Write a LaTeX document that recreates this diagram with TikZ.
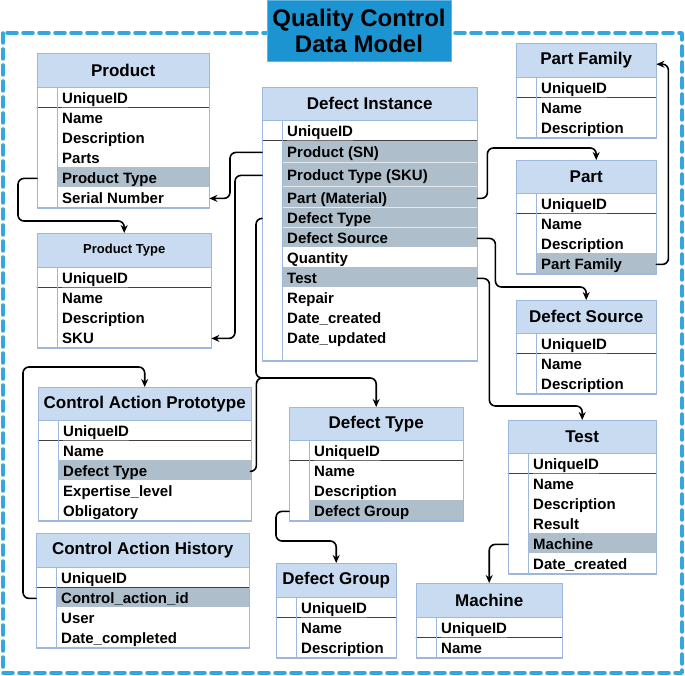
\documentclass[tikz,border=0pt]{standalone}
\usepackage{fontspec}
\setmainfont{Liberation Sans}
\usetikzlibrary{positioning,calc,arrows.meta}
\definecolor{hdrblue}{HTML}{C9DBF0}
\definecolor{bordblue}{HTML}{9DB7DD}
\definecolor{rowgray}{HTML}{AEBFCB}
\definecolor{titleblue}{HTML}{1D94D2}
\definecolor{frameblue}{HTML}{33A8DF}
\newcommand\ulfield[1]{\setbox0\hbox{#1}\rlap{\textcolor{black!55}{\rule[-3.8pt]{\wd0}{1pt}}}\box0}
\tikzset{
  hdr/.style={draw=bordblue, fill=hdrblue, minimum height=34pt, inner sep=0pt, font=\bfseries\fontsize{17}{20}\selectfont},
  tbl/.style={draw=bordblue, inner sep=0pt},
  fld/.style={anchor=west, inner sep=0pt, text height=10.7pt, text depth=0pt, font=\bfseries\fontsize{15}{18}\selectfont},
  divl/.style={draw=black!75, line width=0.8pt},
  link/.style={draw, line width=1.6pt, rounded corners=6pt, -{Stealth[length=8pt,width=7pt]}},
  qcframe/.style={draw=frameblue, line width=3.5pt, dash pattern=on 10pt off 6pt},
}
\begin{document}
\begin{tikzpicture}[x=1pt, y=-1pt, line join=round, line cap=round]
  \def\fields#1#2{\foreach \fname [count=\i from 0] in {#2}
    \node[fld] (#1-\i) at ($(#1-b.north west)+(25,11+20*\i)$) {\fname};}
  \def\hlrow#1#2{\fill[rowgray] ($(#1-b.north west)+(20,20*#2)$) rectangle ($(#1-b.north east)+(0,20*#2+20)$);}
  \def\tbframe#1{\draw[divl] ($(#1-b.north west)+(0,20)$) -- ($(#1-b.north east)+(0,20)$);
    \draw[bordblue] ($(#1-b.north west)+(20,0)$) -- ($(#1-b.south west)+(20,0)$);
    \draw[bordblue] (#1-b.north west) rectangle (#1-b.south east);}
  \useasboundingbox (0,0) rectangle (685,676);
  \draw[qcframe] (3,33) rectangle (682,673);
  \node[fill=titleblue, draw=titleblue!70!white, minimum width=184pt, minimum height=61pt, inner sep=0pt,
    align=center, font=\bfseries\fontsize{24}{26}\selectfont] (title) at (359,30.5) {Quality Control\\Data Model};

  % Product
  \node[hdr, minimum width=172pt, anchor=north west] (prod) at (37,53) {Product};
  \node[tbl, minimum width=172pt, minimum height=120pt, below=0pt of prod] (prod-b) {};
  \hlrow{prod}{4}
  \tbframe{prod}
  \fields{prod}{\ulfield{UniqueID},Name,Description,Parts,Product Type,Serial Number}

  % Product Type
  \node[hdr, minimum width=174pt, anchor=north west, font=\bfseries\fontsize{13}{16}\selectfont] (ptype) at (37,233) {Product Type};
  \node[tbl, minimum width=174pt, minimum height=80pt, below=0pt of ptype] (ptype-b) {};
  \tbframe{ptype}
  \fields{ptype}{\ulfield{UniqueID},Name,Description,SKU}

  % Defect Instance
  \node[hdr, minimum width=215pt, minimum height=33pt, anchor=north west] (di) at (262,87) {Defect Instance};
  \node[tbl, minimum width=215pt, minimum height=240pt, below=0pt of di] (di-b) {};
  \fill[rowgray] ($(di-b.north west)+(20,20)$) rectangle ($(di-b.north east)+(0,127)$);
  \fill[rowgray] ($(di-b.north west)+(20,147)$) rectangle ($(di-b.north east)+(0,167)$);
  \foreach \dy in {42,66,87,107}
    \draw[white!65!rowgray, line width=0.6pt] ($(di-b.north west)+(20,\dy)$) -- ($(di-b.north east)+(0,\dy)$);
  \tbframe{di}
  \foreach \fname/\dy [count=\i from 0] in {\ulfield{UniqueID}/11, Product (SN)/32, Product Type (SKU)/55,
      Part (Material)/78, Defect Type/98, Defect Source/118, Quantity/138, Test/158, Repair/178,
      Date\_created/198, Date\_updated/218}
    \node[fld] (di-\i) at ($(di-b.north west)+(25,\dy)$) {\fname};

  % Part Family
  \node[hdr, minimum width=140pt, anchor=north west] (pfam) at (516,43) {Part Family};
  \node[tbl, minimum width=140pt, minimum height=60pt, below=0pt of pfam] (pfam-b) {};
  \tbframe{pfam}
  \fields{pfam}{\ulfield{UniqueID},Name,Description}

  % Part
  \node[hdr, minimum width=140pt, minimum height=33pt, anchor=north west] (part) at (516,160) {Part};
  \node[tbl, minimum width=140pt, minimum height=80pt, below=0pt of part] (part-b) {};
  \hlrow{part}{3}
  \tbframe{part}
  \fields{part}{\ulfield{UniqueID},Name,Description,Part Family}

  % Defect Source
  \node[hdr, minimum width=140pt, minimum height=33pt, anchor=north west] (dsrc) at (516,300) {Defect Source};
  \node[tbl, minimum width=140pt, minimum height=60pt, below=0pt of dsrc] (dsrc-b) {};
  \tbframe{dsrc}
  \fields{dsrc}{\ulfield{UniqueID},Name,Description}

  % Test
  \node[hdr, minimum width=148pt, minimum height=33pt, anchor=north west] (test) at (508,420) {Test};
  \node[tbl, minimum width=148pt, minimum height=120pt, below=0pt of test] (test-b) {};
  \hlrow{test}{4}
  \tbframe{test}
  \fields{test}{\ulfield{UniqueID},Name,Description,Result,Machine,Date\_created}

  % Machine
  \node[hdr, minimum width=146pt, anchor=north west] (mach) at (416,583) {Machine};
  \node[tbl, minimum width=146pt, minimum height=40pt, below=0pt of mach] (mach-b) {};
  \tbframe{mach}
  \fields{mach}{\ulfield{UniqueID},Name}

  % Defect Group
  \node[hdr, minimum width=120pt, anchor=north west] (dgrp) at (276,563) {Defect Group};
  \node[tbl, minimum width=120pt, minimum height=60pt, below=0pt of dgrp] (dgrp-b) {};
  \tbframe{dgrp}
  \fields{dgrp}{\ulfield{UniqueID},Name,Description}

  % Defect Type
  \node[hdr, minimum width=174pt, minimum height=33pt, anchor=north west] (dtyp) at (289,407) {Defect Type};
  \node[tbl, minimum width=174pt, minimum height=80pt, below=0pt of dtyp] (dtyp-b) {};
  \hlrow{dtyp}{3}
  \tbframe{dtyp}
  \fields{dtyp}{\ulfield{UniqueID},Name,Description,Defect Group}

  % Control Action Prototype
  \node[hdr, minimum width=213pt, minimum height=33pt, anchor=north west] (cap) at (38,387) {Control Action Prototype};
  \node[tbl, minimum width=213pt, minimum height=100pt, below=0pt of cap] (cap-b) {};
  \hlrow{cap}{2}
  \tbframe{cap}
  \fields{cap}{\ulfield{UniqueID},Name,Defect Type,Expertise\_level,Obligatory}

  % Control Action History
  \node[hdr, minimum width=213pt, anchor=north west] (cah) at (36,533) {Control Action History};
  \node[tbl, minimum width=213pt, minimum height=80pt, below=0pt of cah] (cah-b) {};
  \hlrow{cah}{1}
  \tbframe{cah}
  \fields{cah}{UniqueID,Control\_action\_id,User,Date\_completed}

  % links
  \draw[link] (prod-4 -| prod-b.west) -- ++(-19,0) |- ($(ptype.north)+(0,-12)$) -- (ptype.north);
  \draw[link] (di-1 -| di-b.west) -- ++(-32,0) |- (prod-5 -| prod-b.east);
  \draw[link] (di-2 -| di-b.west) -- ++(-27,0) |- (ptype-3 -| ptype-b.east);
  \draw[link] (di-4 -| di-b.west) -- ++(-6,0) |- ($(dtyp.north)+(0,-29)$) -- (dtyp.north);
  \draw[link, -] (cap-2 -| cap-b.east) -- ++(5,0) |- ($(dtyp.north)+(-60,-29)$);
  \draw[link] (di-3 -| di-b.east) -- ++(10,0) |- ($(part.north)+(10,-12)$) -- ($(part.north)+(10,0)$);
  \draw[link] (di-5 -| di-b.east) -- ++(18,0) |- ($(dsrc.north)+(0,-13)$) -- (dsrc.north);
  \draw[link] (di-7 -| di-b.east) -- ++(12,0) |- ($(test.north)+(0,-14)$) -- (test.north);
  \draw[link] (part-3 -| part-b.east) -- ++(12,0) |- ($(pfam.east)+(0,4)$);
  \draw[link] (dtyp-3 -| dtyp-b.west) -- ++(-13,0) |- ($(dgrp.north)+(0,-22)$) -- (dgrp.north);
  \draw[link] (test-4 -| test-b.west) -| (mach.north);
  \draw[link] (cah-1 -| cah-b.west) -- ++(-13,0) |- ($(cap.north)+(0,-20)$) -- (cap.north);
\end{tikzpicture}
\end{document}
